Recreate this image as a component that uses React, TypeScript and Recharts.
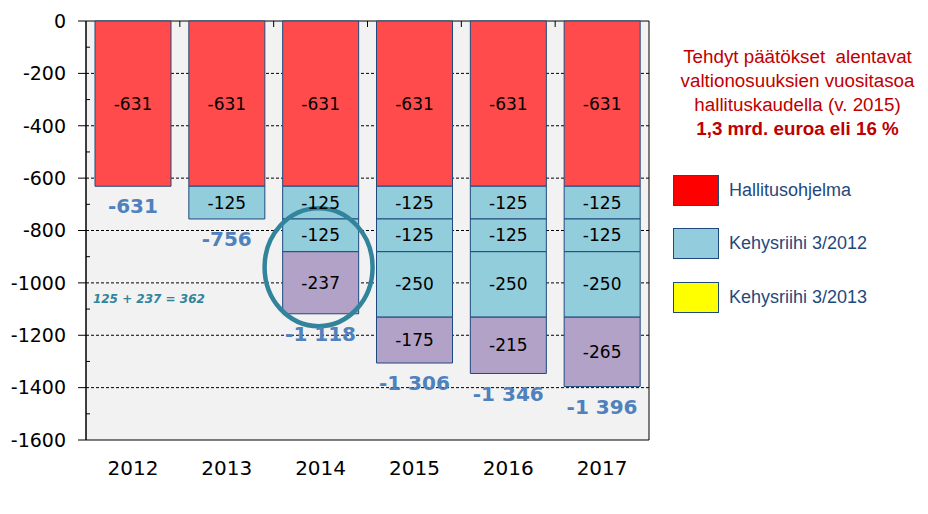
import React from "react";
import {
  ComposedChart,
  Bar,
  Line,
  XAxis,
  YAxis,
  CartesianGrid,
  ReferenceArea,
  ReferenceDot,
  LabelList,
} from "recharts";

const years = ["2012", "2013", "2014", "2015", "2016", "2017"];
const hallitusohjelma = [-631, -631, -631, -631, -631, -631];
const kehys2012a = [null, -125, -125, -125, -125, -125];
const kehys2012b = [null, null, -125, -125, -125, -125];
const kehys2012c = [null, null, null, -250, -250, -250];
const kehys2013 = [null, null, -237, -175, -215, -265];
const totals = [-631, -756, -1118, -1306, -1346, -1396];

const yTicks = [0, -200, -400, -600, -800, -1000, -1200, -1400, -1600];
const yMinorTicks = [-100, -300, -500, -700, -900, -1100, -1300, -1500];
const gridValues = [-200, -400, -600, -800, -1000, -1200, -1400];

const titleLines = [
  "Tehdyt päätökset  alentavat",
  "valtionosuuksien vuositasoa",
  "hallituskaudella (v. 2015)",
];
const titleBold = "1,3 mrd. euroa eli 16 %";

const legendItems = [
  { label: "Hallitusohjelma", color: "#ff0000" },
  { label: "Kehysriihi 3/2012", color: "#93cddd" },
  { label: "Kehysriihi 3/2013", color: "#ffff00" },
];

const RED = "#ff4b4b";
const BLUE = "#92cddc";
const PURPLE = "#b3a2c7";
const EDGE = "#1f497d";
const TEAL = "#31849b";
const TOTAL_COLOR = "#4f81bd";
const FONT = "'DejaVu Sans', Verdana, sans-serif";

const W = 928;
const H = 514;
const MARGIN = { top: 21, right: 279, bottom: 24, left: 0 };
const Y_AXIS_W = 86;
const BAND = (W - MARGIN.left - Y_AXIS_W - MARGIN.right) / years.length;

const data = years.map((year, i) => ({
  year,
  hallitus: hallitusohjelma[i],
  k12a: kehys2012a[i],
  k12b: kehys2012b[i],
  k12c: kehys2012c[i],
  k13: kehys2013[i],
  total: totals[i],
}));

const allYTicks = [...yTicks, ...yMinorTicks];

function fmtTotal(v: number) {
  const s = Math.abs(v).toString();
  const body = s.length > 3 ? `${s.slice(0, -3)} ${s.slice(-3)}` : s;
  return v < 0 ? `-${body}` : body;
}

function YTick(props: any) {
  const { x, y, payload } = props;
  const axisX = x + 8 + 12;
  const major = payload.value % 200 === 0;
  if (!major) {
    return <line x1={axisX} x2={axisX + 4} y1={y} y2={y} stroke="#000" />;
  }
  return (
    <g>
      <line x1={axisX - 8} x2={axisX} y1={y} y2={y} stroke="#000" />
      <text
        x={x}
        y={y}
        dy="0.36em"
        textAnchor="end"
        fontFamily={FONT}
        fontSize={19}
        fill="#000"
      >
        {payload.value}
      </text>
    </g>
  );
}

// category label, plus the boundary tick hanging from the zero line
function XTick(props: any) {
  const { x, y, payload, index } = props;
  const bx = x + BAND / 2;
  return (
    <g>
      {index < years.length - 1 && (
        <line x1={bx} x2={bx} y1={MARGIN.top} y2={MARGIN.top + 6} stroke="#000" />
      )}
      <text
        x={x}
        y={y + 28}
        dy="0.36em"
        textAnchor="middle"
        fontFamily={FONT}
        fontSize={20}
        fill="#000"
      >
        {payload.value}
      </text>
    </g>
  );
}

function TotalLabel(props: any) {
  const { x, y, value } = props;
  if (value == null) return null;
  return (
    <text
      x={x}
      y={y + 20}
      dy="0.36em"
      textAnchor="middle"
      fontFamily={FONT}
      fontSize={20}
      fontWeight="bold"
      fill={TOTAL_COLOR}
    >
      {fmtTotal(value)}
    </text>
  );
}

const segLabel = {
  position: "center" as const,
  fill: "#000",
  fontFamily: FONT,
  fontSize: 17,
};

export default function App() {
  return (
    <div
      style={{
        position: "absolute",
        left: 0,
        top: 0,
        width: W,
        height: H,
        background: "#fff",
      }}
    >
      <ComposedChart width={W} height={H} data={data} margin={MARGIN}>
        <CartesianGrid
          vertical={false}
          horizontalValues={gridValues}
          stroke="#000"
          strokeDasharray="3 2"
          fill="#f2f2f2"
        />
        <XAxis
          dataKey="year"
          height={50}
          axisLine={false}
          tickLine={false}
          tickSize={0}
          tickMargin={0}
          tick={<XTick />}
          interval={0}
        />
        <YAxis
          domain={[-1600, 0]}
          ticks={allYTicks}
          interval={0}
          width={Y_AXIS_W}
          axisLine={{ stroke: "#000" }}
          tickLine={false}
          tickSize={8}
          tickMargin={12}
          tick={<YTick />}
        />
        <Bar dataKey="hallitus" stackId="a" barSize={76} fill={RED} stroke={EDGE} isAnimationActive={false}>
          <LabelList dataKey="hallitus" {...segLabel} />
        </Bar>
        <Bar dataKey="k12a" stackId="a" barSize={76} fill={BLUE} stroke={EDGE} isAnimationActive={false}>
          <LabelList dataKey="k12a" {...segLabel} />
        </Bar>
        <Bar dataKey="k12b" stackId="a" barSize={76} fill={BLUE} stroke={EDGE} isAnimationActive={false}>
          <LabelList dataKey="k12b" {...segLabel} />
        </Bar>
        <Bar dataKey="k12c" stackId="a" barSize={76} fill={BLUE} stroke={EDGE} isAnimationActive={false}>
          <LabelList dataKey="k12c" {...segLabel} />
        </Bar>
        <Bar dataKey="k13" stackId="a" barSize={76} fill={PURPLE} stroke={EDGE} isAnimationActive={false}>
          <LabelList dataKey="k13" {...segLabel} />
        </Bar>
        <ReferenceArea y1={-1600} y2={0} fill="none" stroke="#000" strokeWidth={1} />
        <Line
          dataKey="total"
          stroke="none"
          dot={false}
          activeDot={false}
          isAnimationActive={false}
        >
          <LabelList dataKey="total" content={<TotalLabel />} />
        </Line>
        {/* circle around the 2014 frame-decision segments */}
        <ReferenceDot
          x="2014"
          y={-940}
          r={1}
          shape={(p: any) => (
            <ellipse
              cx={p.cx - 2}
              cy={p.cy}
              rx={54}
              ry={59}
              fill="none"
              stroke={TEAL}
              strokeWidth={4.5}
            />
          )}
        />
        <ReferenceDot
          x="2012"
          y={-1061}
          r={1}
          shape={(p: any) => (
            <text
              x={p.cx - 40}
              y={p.cy}
              dy="0.36em"
              fontFamily={FONT}
              fontSize={12}
              fontWeight="bold"
              fontStyle="italic"
              fill={TEAL}
            >
              125 + 237 = 362
            </text>
          )}
        />
      </ComposedChart>

      <div
        style={{
          position: "absolute",
          left: 670,
          top: 45,
          width: 255,
          textAlign: "center",
          fontFamily: "'Liberation Sans', Arial, sans-serif",
          fontSize: 18.8,
          lineHeight: "24px",
          color: "#c00000",
          whiteSpace: "pre",
        }}
      >
        {titleLines.map((t) => (
          <div key={t}>{t}</div>
        ))}
        <div style={{ fontWeight: "bold" }}>{titleBold}</div>
      </div>

      {legendItems.map((item, i) => (
        <div
          key={item.label}
          style={{
            position: "absolute",
            left: 673,
            top: 175 + i * 53.5,
            height: 30,
            display: "flex",
            alignItems: "center",
            fontFamily: "'Liberation Sans', Arial, sans-serif",
            fontSize: 18,
            color: EDGE,
          }}
        >
          <span
            style={{
              display: "inline-block",
              width: 44,
              height: 29,
              background: item.color,
              border: `1px solid ${EDGE}`,
              marginRight: 10,
            }}
          />
          {item.label}
        </div>
      ))}
    </div>
  );
}
